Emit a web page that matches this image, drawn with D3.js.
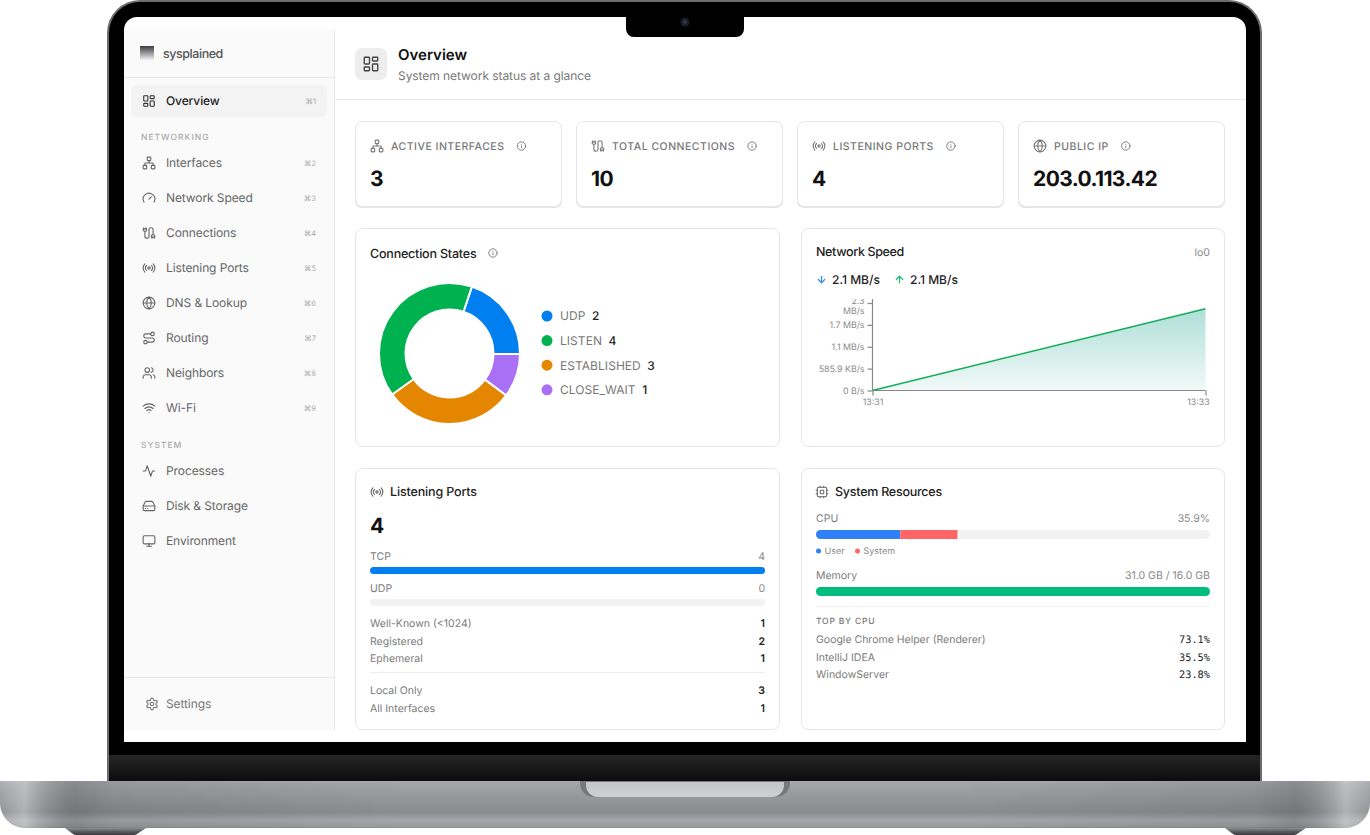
<!DOCTYPE html>
<html>
<head>
<meta charset="utf-8">
<title>sysplained overview</title>
<script src="https://cdn.jsdelivr.net/npm/d3@7"></script>
<style>
  html, body { margin: 0; padding: 0; background: #fff; overflow: hidden; }
  svg { display: block; font-family: Inter, "Noto Sans", sans-serif; }
  text { text-rendering: geometricPrecision; }
</style>
</head>
<body>
<div id="chart"></div>
<script>
// Navigation
const navTop = ["Overview"];
const navNetworking = ["Interfaces", "Network Speed", "Connections", "Listening Ports", "DNS & Lookup", "Routing", "Neighbors", "Wi-Fi"];
const navSystem = ["Processes", "Disk & Storage", "Environment"];

// Stat cards
const statLabels = ["ACTIVE INTERFACES", "TOTAL CONNECTIONS", "LISTENING PORTS", "PUBLIC IP"];
const statValues = ["3", "10", "4", "203.0.113.42"];

// Connection states, in the order they go round the ring
const stateNames = ["UDP", "CLOSE_WAIT", "ESTABLISHED", "LISTEN"];
const stateCounts = [2, 1, 3, 4];
const legendOrder = ["UDP", "LISTEN", "ESTABLISHED", "CLOSE_WAIT"];

// Network speed, KB/s
const speedTimes = ["13:31", "13:33"];
const speedValues = [0, 2190];
const speedTicks = [0, 585.9, 1171.8, 1757.7, 2343.6];
const speedTickLabels = ["0 B/s", "585.9 KB/s", "1.1 MB/s", "1.7 MB/s", "2.3 MB/s"];

// Listening ports
const protoNames = ["TCP", "UDP"];
const protoCounts = [4, 0];
const portRangeNames = ["Well-Known (<1024)", "Registered", "Ephemeral"];
const portRangeCounts = [1, 2, 1];
const bindNames = ["Local Only", "All Interfaces"];
const bindCounts = [3, 1];

// System resources
const cpuParts = ["User", "System"];
const cpuValues = [21.4, 14.5];
const memUsed = 31.0;
const memTotal = 16.0;
const procNames = ["Google Chrome Helper (Renderer)", "IntelliJ IDEA", "WindowServer"];
const procCpu = [73.1, 35.5, 23.8];

const icons = {
  overview: '<rect x="3" y="3" width="7" height="9" rx="1"/><rect x="14" y="3" width="7" height="5" rx="1"/><rect x="14" y="12" width="7" height="9" rx="1"/><rect x="3" y="16" width="7" height="5" rx="1"/>',
  network: '<rect x="16" y="16" width="6" height="6" rx="1"/><rect x="2" y="16" width="6" height="6" rx="1"/><rect x="9" y="2" width="6" height="6" rx="1"/><path d="M5 16v-3a1 1 0 0 1 1-1h12a1 1 0 0 1 1 1v3"/><path d="M12 12V8"/>',
  gauge: '<path d="m12 14 4-4"/><path d="M3.34 19a10 10 0 1 1 17.32 0"/>',
  cable: '<path d="M17 21v-2a1 1 0 0 1-1-1v-1a2 2 0 0 1 2-2h2a2 2 0 0 1 2 2v1a1 1 0 0 1-1 1"/><path d="M19 15V6.5a1 1 0 0 0-7 0v11a1 1 0 0 1-7 0V9"/><path d="M21 21v-2h-4"/><path d="M3 5h4V3"/><path d="M7 5a1 1 0 0 1 1 1v1a2 2 0 0 1-2 2H4a2 2 0 0 1-2-2V6a1 1 0 0 1 1-1V3"/>',
  radio: '<path d="M4.9 19.1C1 15.2 1 8.8 4.9 4.9"/><path d="M7.8 16.2c-2.3-2.3-2.3-6.1 0-8.5"/><circle cx="12" cy="12" r="2"/><path d="M16.2 7.8c2.3 2.3 2.3 6.1 0 8.5"/><path d="M19.1 4.9C23 8.8 23 15.1 19.1 19"/>',
  globe: '<circle cx="12" cy="12" r="10"/><path d="M12 2a14.5 14.5 0 0 0 0 20 14.5 14.5 0 0 0 0-20"/><path d="M2 12h20"/>',
  route: '<circle cx="6" cy="19" r="3"/><path d="M9 19h8.5a3.5 3.5 0 0 0 0-7h-11a3.5 3.5 0 0 1 0-7H15"/><circle cx="18" cy="5" r="3"/>',
  users: '<path d="M16 21v-2a4 4 0 0 0-4-4H6a4 4 0 0 0-4 4v2"/><circle cx="9" cy="7" r="4"/><path d="M22 21v-2a4 4 0 0 0-3-3.87"/><path d="M16 3.13a4 4 0 0 1 0 7.75"/>',
  wifi: '<path d="M12 20h.01"/><path d="M2 8.82a15 15 0 0 1 20 0"/><path d="M5 12.859a10 10 0 0 1 14 0"/><path d="M8.5 16.429a5 5 0 0 1 7 0"/>',
  activity: '<path d="M22 12h-4l-3 9L9 3l-3 9H2"/>',
  drive: '<path d="M22 12H2"/><path d="M5.45 5.11 2 12v6a2 2 0 0 0 2 2h16a2 2 0 0 0 2-2v-6l-3.45-6.89A2 2 0 0 0 16.76 4H7.24a2 2 0 0 0-1.79 1.11z"/><path d="M6 16h.01"/><path d="M10 16h.01"/>',
  monitor: '<rect x="2" y="3" width="20" height="14" rx="2"/><path d="M8 21h8"/><path d="M12 17v4"/>',
  settings: '<path d="M12.22 2h-.44a2 2 0 0 0-2 2v.18a2 2 0 0 1-1 1.73l-.43.25a2 2 0 0 1-2 0l-.15-.08a2 2 0 0 0-2.73.73l-.22.38a2 2 0 0 0 .73 2.73l.15.1a2 2 0 0 1 1 1.72v.51a2 2 0 0 1-1 1.74l-.15.09a2 2 0 0 0-.73 2.73l.22.38a2 2 0 0 0 2.73.73l.15-.08a2 2 0 0 1 2 0l.43.25a2 2 0 0 1 1 1.73V20a2 2 0 0 0 2 2h.44a2 2 0 0 0 2-2v-.18a2 2 0 0 1 1-1.73l.43-.25a2 2 0 0 1 2 0l.15.08a2 2 0 0 0 2.73-.73l.22-.39a2 2 0 0 0-.73-2.73l-.15-.08a2 2 0 0 1-1-1.74v-.5a2 2 0 0 1 1-1.74l.15-.09a2 2 0 0 0 .73-2.73l-.22-.38a2 2 0 0 0-2.73-.73l-.15.08a2 2 0 0 1-2 0l-.43-.25a2 2 0 0 1-1-1.73V4a2 2 0 0 0-2-2z"/><circle cx="12" cy="12" r="3"/>',
  info: '<circle cx="12" cy="12" r="10"/><path d="M12 16v-4"/><path d="M12 8h.01"/>',
  down: '<path d="M12 5v14"/><path d="m19 12-7 7-7-7"/>',
  up: '<path d="m5 12 7-7 7 7"/><path d="M12 19V5"/>',
  cpu: '<rect x="4" y="4" width="16" height="16" rx="2"/><rect x="9" y="9" width="6" height="6" rx="1"/><path d="M15 2v2M15 20v2M2 15h2M2 9h2M20 15h2M20 9h2M9 2v2M9 20v2"/>'
};
const navIcons = ["network", "gauge", "cable", "radio", "globe", "route", "users", "wifi"];
const sysIcons = ["activity", "drive", "monitor"];
const statIcons = ["network", "cable", "radio", "globe"];

const width = 1370, height = 835;
const svg = d3.select("#chart").append("svg").attr("width", width).attr("height", height);
const defs = svg.append("defs");

function gradient(id, stops, horizontal) {
  const g = defs.append("linearGradient").attr("id", id)
    .attr("x1", 0).attr("y1", 0).attr("x2", horizontal ? 1 : 0).attr("y2", horizontal ? 0 : 1);
  stops.forEach(s => g.append("stop").attr("offset", s[0]).attr("stop-color", s[1]).attr("stop-opacity", s[2] === undefined ? 1 : s[2]));
}
gradient("chin", [[0, "#262626"], [1, "#0c0c0c"]]);
gradient("base", [[0, "#aaabaf"], [0.05, "#a3a4a8"], [0.66, "#8a8b8f"], [0.84, "#a6a7ab"], [0.97, "#9a9b9f"], [1, "#8a8b8e"]]);
gradient("baseEdge", [[0, "#fff", 0.08], [0.018, "#fff", 0.32], [0.055, "#000", 0.16], [0.085, "#000", 0.08], [0.3, "#000", 0], [0.7, "#000", 0], [0.915, "#000", 0.08], [0.945, "#000", 0.16], [0.982, "#fff", 0.32], [1, "#fff", 0.08]], true);
gradient("hinge", [[0, "#c4c5c9"], [1, "#cfd0d4"]]);
gradient("foot", [[0, "#8d8e91"], [0.5, "#5b5c5f"], [1, "#3c3c3e"]]);
gradient("logo", [[0, "#3c3c44"], [1, "#ffffff"]]);
gradient("speedFill", [[0, "#14a08c", 0.34], [1, "#14a08c", 0.06]]);

// Laptop body
const hw = svg.append("g");
[65, 1225].forEach(x => hw.append("path").attr("d", `M${x} 828h81l-9 6q-1 1-3 1h-58q-2 0-3-1z`).attr("fill", "url(#foot)"));
hw.append("path").attr("d", "M0 781H1370V803a25 25 0 0 1-25 25H25a25 25 0 0 1-25-25z").attr("fill", "url(#base)");
hw.append("path").attr("d", "M0 781H1370V803a25 25 0 0 1-25 25H25a25 25 0 0 1-25-25z").attr("fill", "url(#baseEdge)");
hw.append("path").attr("d", "M580 781H790V783a14 14 0 0 1-14 14H594a14 14 0 0 1-14-14z").attr("fill", "#77787b");
hw.append("path").attr("d", "M586 782H784V785a12 12 0 0 1-12 12H598a12 12 0 0 1-12-12z").attr("fill", "url(#hinge)");
hw.append("path").attr("d", "M107 781V33a33 33 0 0 1 33-33H1229a33 33 0 0 1 33 33V781z").attr("fill", "#6d6d70");
hw.append("path").attr("d", "M109 781V33a31 31 0 0 1 31-31H1229a31 31 0 0 1 31 31V781z").attr("fill", "#000");
hw.append("rect").attr("x", 109).attr("y", 755).attr("width", 1151).attr("height", 26).attr("fill", "url(#chin)");
hw.append("path").attr("d", "M124 742V30a13 13 0 0 1 13-13H1233a13 13 0 0 1 13 13V742z").attr("fill", "#fff");
hw.append("path").attr("d", "M626 17H744V29a8 8 0 0 1-8 8H634a8 8 0 0 1-8-8z").attr("fill", "#000");
hw.append("circle").attr("cx", 685).attr("cy", 22).attr("r", 4.5).attr("fill", "#1b1d26");
hw.append("circle").attr("cx", 685).attr("cy", 22).attr("r", 2).attr("fill", "#2f3750");

const ui = svg.append("g");

function label(parent, x, y, str, size, color, opts) {
  opts = opts || {};
  return parent.append("text").attr("x", x).attr("y", y).text(str)
    .attr("font-size", size).attr("fill", color)
    .attr("font-weight", opts.weight || 400)
    .attr("text-anchor", opts.anchor || "start")
    .attr("letter-spacing", opts.spacing || null)
    .attr("font-family", opts.family || null);
}
function icon(parent, name, x, y, size, color, sw) {
  parent.append("g").attr("transform", `translate(${x},${y}) scale(${size / 24})`)
    .attr("fill", "none").attr("stroke", color).attr("stroke-width", sw || 2)
    .attr("stroke-linecap", "round").attr("stroke-linejoin", "round")
    .html(icons[name]);
}
function card(x0, y0, x1, y1, shadow) {
  if (shadow) ui.append("rect").attr("x", x0).attr("y", y0 + 1).attr("width", x1 - x0).attr("height", y1 - y0).attr("rx", 7).attr("fill", "#e4e4e4");
  ui.append("rect").attr("x", x0 + 0.5).attr("y", y0 + 0.5).attr("width", x1 - x0 - 1).attr("height", y1 - y0 - 1).attr("rx", 7)
    .attr("fill", "#fff").attr("stroke", "#e6e6e6");
}

// Sidebar
ui.append("rect").attr("x", 124).attr("y", 29).attr("width", 210).attr("height", 701).attr("fill", "#fafafa");
ui.append("rect").attr("x", 334).attr("y", 29).attr("width", 1).attr("height", 701).attr("fill", "#e9e9e9");
ui.append("rect").attr("x", 124).attr("y", 77).attr("width", 210).attr("height", 1).attr("fill", "#e9e9e9");
ui.append("rect").attr("x", 124).attr("y", 677).attr("width", 210).attr("height", 1).attr("fill", "#e9e9e9");
ui.append("rect").attr("x", 140).attr("y", 46).attr("width", 14).attr("height", 15).attr("fill", "url(#logo)");
label(ui, 163, 58, "sysplained", 12.5, "#555", { weight: 500, spacing: -0.45 });

ui.append("rect").attr("x", 131).attr("y", 85).attr("width", 196).attr("height", 32).attr("rx", 6).attr("fill", "#f3f3f3");
function navRow(name, ic, y, key, active) {
  icon(ui, ic, 142, y - 7, 14, active ? "#333" : "#666", 1.9);
  label(ui, 166, y + 4.1, name, 12, active ? "#222" : "#666", { weight: active ? 500 : 400, spacing: -0.1 });
  if (key) label(ui, 316, y + 3, "⌘" + key, 7.5, "#aaa", { anchor: "end" });
}
navRow(navTop[0], "overview", 101, 1, true);
label(ui, 141, 140, "NETWORKING", 8.5, "#aaa", { weight: 500, spacing: 1 });
navNetworking.forEach((n, i) => navRow(n, navIcons[i], 163 + i * 35, i + 2));
label(ui, 141, 448, "SYSTEM", 8.5, "#aaa", { weight: 500, spacing: 1 });
navSystem.forEach((n, i) => navRow(n, sysIcons[i], 471 + i * 35));
icon(ui, "settings", 145, 697, 14, "#777", 1.9);
label(ui, 166, 708.1, "Settings", 12, "#777", { spacing: -0.1 });

// Page header
ui.append("rect").attr("x", 335).attr("y", 99).attr("width", 911).attr("height", 1).attr("fill", "#e9e9e9");
ui.append("rect").attr("x", 355).attr("y", 48).attr("width", 32).attr("height", 32).attr("rx", 7).attr("fill", "#ededed");
icon(ui, "overview", 362, 55, 18, "#444", 1.8);
label(ui, 398, 60, "Overview", 15, "#111", { weight: 600 });
label(ui, 398, 80, "System network status at a glance", 12, "#777", { spacing: -0.06 });

// Stat cards
const statX = d3.scalePoint().domain(d3.range(statLabels.length)).range([355, 1018]);
statLabels.forEach((name, i) => {
  const x = statX(i);
  card(x, 121, x + 207, 207, true);
  icon(ui, statIcons[i], x + 15, 139, 14, "#777", 1.9);
  const t = label(ui, x + 36, 150, name, 10.5, "#777", { weight: 500, spacing: 0.5 });
  const w = t.node().getComputedTextLength();
  icon(ui, "info", x + 36 + w + 12, 141, 10, "#777", 2.2);
  label(ui, x + 15, 186, statValues[i], 21, "#111", { weight: 700, spacing: -0.6 });
});

// Connection states
card(355, 228, 780, 447);
label(ui, 370, 258, "Connection States", 12.5, "#222", { weight: 500, spacing: -0.2 });
icon(ui, "info", 488, 248, 10, "#777", 2.2);

const stateColor = d3.scaleOrdinal().domain(["UDP", "LISTEN", "ESTABLISHED", "CLOSE_WAIT"])
  .range(["#0080f0", "#00b14f", "#e58600", "#a970f5"]);
const startAngle = 18.5 * Math.PI / 180;
const pie = d3.pie().sort(null).startAngle(startAngle).endAngle(startAngle + 2 * Math.PI);
const arc = d3.arc().innerRadius(44).outerRadius(70.5);
ui.append("g").attr("transform", "translate(449.5,353.5)")
  .selectAll("path").data(pie(stateCounts)).join("path")
  .attr("d", arc)
  .attr("fill", (d, i) => stateColor(stateNames[i]))
  .attr("stroke", "#fff").attr("stroke-width", 2);

legendOrder.forEach((name, i) => {
  const y = 316 + i * 24.6;
  ui.append("circle").attr("cx", 547).attr("cy", y).attr("r", 5.5).attr("fill", stateColor(name));
  const t = label(ui, 560, y + 4.4, name, 12, "#777", { spacing: 0.05 });
  label(ui, 560 + t.node().getComputedTextLength() + 6.5, y + 4.4, stateCounts[stateNames.indexOf(name)], 12, "#222", { weight: 500 });
});

// Network speed
card(801, 228, 1225, 447);
label(ui, 816, 256, "Network Speed", 12.5, "#222", { weight: 500, spacing: -0.35 });
label(ui, 1210, 256, "lo0", 10.5, "#888", { anchor: "end" });
icon(ui, "down", 816, 274, 11, "#2f8fee", 2.6);
label(ui, 832, 284, "2.1 MB/s", 12, "#222", { weight: 500 });
icon(ui, "up", 894, 274, 11, "#1dbb6a", 2.6);
label(ui, 910, 284, "2.1 MB/s", 12, "#222", { weight: 500 });

const xSpeed = d3.scalePoint().domain(speedTimes).range([872.5, 1205.5]);
const ySpeed = d3.scaleLinear().domain([0, d3.max(speedTicks)]).range([390.5, 303]);
const speedPoints = speedTimes.map((t, i) => ({ t, v: speedValues[i] }));

defs.append("clipPath").attr("id", "speedClip").append("rect").attr("x", 810).attr("y", 299).attr("width", 410).attr("height", 120);
const plot = ui.append("g").attr("clip-path", "url(#speedClip)");
plot.append("path").datum(speedPoints).attr("fill", "url(#speedFill)")
  .attr("d", d3.area().x(d => xSpeed(d.t)).y0(ySpeed(0)).y1(d => ySpeed(d.v)));

const yAxis = plot.append("g").attr("transform", "translate(872.5,0)")
  .call(d3.axisLeft(ySpeed).tickValues(speedTicks).tickSize(5).tickPadding(3).tickFormat((d, i) => speedTickLabels[i]));
const xAxis = plot.append("g").attr("transform", "translate(0,390.5)")
  .call(d3.axisBottom(xSpeed).tickSize(5).tickPadding(3));
[yAxis, xAxis].forEach(a => {
  a.attr("font-family", null).attr("font-size", 8.8);
  a.selectAll("text").attr("fill", "#888");
  a.selectAll("line, path").attr("stroke", "#888").attr("stroke-width", 1.2);
});
yAxis.select(".domain").attr("d", "M0 299V390.5");
xAxis.select(".domain").attr("d", "M872.5 0H1205.5");
// last time label is pulled back in so it stays inside the card padding
xAxis.selectAll("text").filter((d, i) => i === speedTimes.length - 1).attr("x", -7.5);
// the top label doesn't fit on one line, it wraps and gets cut off
yAxis.selectAll("text").filter((d, i) => i === speedTicks.length - 1).each(function () {
  const t = d3.select(this).text(null);
  t.append("tspan").attr("x", -8).attr("dy", "0.1em").text("2.3");
  t.append("tspan").attr("x", -8).attr("dy", "1.05em").text("MB/s");
});
plot.append("path").datum(speedPoints).attr("fill", "none").attr("stroke", "#10ae55").attr("stroke-width", 1.4)
  .attr("d", d3.line().x(d => xSpeed(d.t)).y(d => ySpeed(d.v)));

// Listening ports
card(355, 468, 780, 730);
icon(ui, "radio", 370, 485, 14, "#666", 1.9);
label(ui, 390, 496, "Listening Ports", 12.5, "#222", { weight: 500, spacing: -0.15 });
label(ui, 370, 533, d3.sum(protoCounts), 21, "#111", { weight: 700 });

const xPorts = d3.scaleLinear().domain([0, d3.sum(protoCounts)]).range([370, 765]);
protoNames.forEach((name, i) => {
  const y = 560 + i * 32;
  label(ui, 370, y, name, 10.5, "#7c7c7c");
  label(ui, 765, y, protoCounts[i], 10.5, "#888", { anchor: "end" });
  ui.append("rect").attr("x", 370).attr("y", y + 7).attr("width", 395).attr("height", 7).attr("rx", 3.5).attr("fill", "#f2f2f2");
  if (protoCounts[i] > 0) ui.append("rect").attr("x", xPorts(0)).attr("y", y + 7).attr("width", xPorts(protoCounts[i]) - xPorts(0)).attr("height", 7).attr("rx", 3.5).attr("fill", "#0080f0");
});
portRangeNames.forEach((name, i) => {
  const y = 627 + i * 17.5;
  label(ui, 370, y, name, 10.5, "#7c7c7c");
  label(ui, 765, y, portRangeCounts[i], 10.5, "#222", { anchor: "end", weight: 600 });
});
ui.append("rect").attr("x", 370).attr("y", 672).attr("width", 395).attr("height", 1).attr("fill", "#ececec");
bindNames.forEach((name, i) => {
  const y = 694 + i * 17.5;
  label(ui, 370, y, name, 10.5, "#7c7c7c");
  label(ui, 765, y, bindCounts[i], 10.5, "#222", { anchor: "end", weight: 600 });
});

// System resources
card(801, 468, 1225, 730);
icon(ui, "cpu", 815, 485, 14, "#666", 1.8);
label(ui, 835, 496, "System Resources", 12.5, "#222", { weight: 500, spacing: -0.25 });
label(ui, 816, 522, "CPU", 10.5, "#7c7c7c");
label(ui, 1210, 522, d3.sum(cpuValues).toFixed(1) + "%", 10.5, "#888", { anchor: "end" });

const cpuColor = d3.scaleOrdinal().domain(cpuParts).range(["#3080f8", "#ff6567"]);
const xPct = d3.scaleLinear().domain([0, 100]).range([816, 1210]);
defs.append("clipPath").attr("id", "cpuClip").append("rect").attr("x", 816).attr("y", 530).attr("width", 394).attr("height", 9).attr("rx", 4.5);
ui.append("rect").attr("x", 816).attr("y", 530).attr("width", 394).attr("height", 9).attr("rx", 4.5).attr("fill", "#f2f2f2");
const cpuStack = d3.cumsum(cpuValues);
ui.append("g").attr("clip-path", "url(#cpuClip)").selectAll("rect").data(cpuParts).join("rect")
  .attr("x", (d, i) => xPct(i ? cpuStack[i - 1] : 0))
  .attr("width", (d, i) => xPct(cpuValues[i]) - xPct(0))
  .attr("y", 530).attr("height", 9)
  .attr("fill", d => cpuColor(d));
cpuParts.forEach((name, i) => {
  const x = 818.5 + i * 39;
  ui.append("circle").attr("cx", x).attr("cy", 551).attr("r", 2.5).attr("fill", cpuColor(name));
  label(ui, x + 6, 554.3, name, 9, "#888");
});

label(ui, 816, 579, "Memory", 10.5, "#7c7c7c");
label(ui, 1210, 579, `${memUsed.toFixed(1)} GB / ${memTotal.toFixed(1)} GB`, 10.5, "#888", { anchor: "end" });
const xMem = d3.scaleLinear().domain([0, memTotal]).range([816, 1210]).clamp(true);
ui.append("rect").attr("x", 816).attr("y", 587).attr("width", xMem(memUsed) - xMem(0)).attr("height", 9).attr("rx", 4.5).attr("fill", "#00bd7e");
ui.append("rect").attr("x", 816).attr("y", 606).attr("width", 394).attr("height", 1).attr("fill", "#efefef");
label(ui, 816, 624, "TOP BY CPU", 8.5, "#777", { weight: 500, spacing: 0.8 });
procNames.forEach((name, i) => {
  const y = 643 + i * 17.5;
  label(ui, 816, y, name, 10.5, "#7c7c7c");
  label(ui, 1210, y, procCpu[i].toFixed(1) + "%", 10.3, "#222", { anchor: "end", family: "'DejaVu Sans Mono', monospace" });
});
</script>
</body>
</html>
